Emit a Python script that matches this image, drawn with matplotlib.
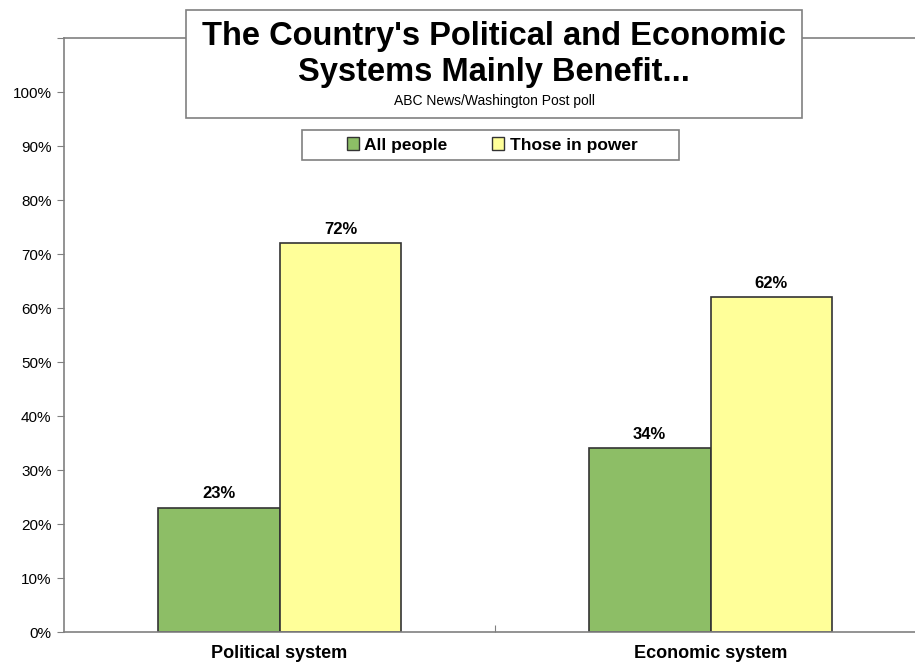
import matplotlib.pyplot as plt
import matplotlib.patches as mpatches
import numpy as np

categories = ["Political system", "Economic system"]
series_names = ["All people", "Those in power"]
all_people = [23, 34]
those_in_power = [72, 62]
colors = ["#8DBE66", "#FFFF99"]

plt.rcParams["font.family"] = ["Liberation Sans", "DejaVu Sans"]

fig = plt.figure(figsize=(9.15, 6.65), dpi=100)
ax = fig.add_axes([64 / 915, 33 / 665, 862 / 915, 594 / 665])

x = np.arange(len(categories))
w = 0.283
b1 = ax.bar(x - w / 2, all_people, w, color=colors[0], edgecolor="#333333", linewidth=1.2)
b2 = ax.bar(x + w / 2, those_in_power, w, color=colors[1], edgecolor="#333333", linewidth=1.2)

for bars, vals in [(b1, all_people), (b2, those_in_power)]:
    for rect, v in zip(bars, vals):
        ax.text(rect.get_x() + rect.get_width() / 2, v + 1.2, f"{v}%",
                ha="center", va="bottom", fontsize=12, fontweight="bold")

ax.set_xlim(-0.5, 1.5)
ax.set_ylim(0, 110)
ax.set_yticks(np.arange(0, 111, 10))
ax.set_yticklabels([f"{t}%" for t in range(0, 101, 10)] + [""], fontsize=11)
ax.set_xticks([0.5])
ax.set_xticklabels([""])
ax.tick_params(axis="x", direction="in", length=5, color="#808080")
ax.tick_params(axis="y", direction="out", length=5, color="#808080", pad=4)
for xi, name in zip(x, categories):
    ax.text(xi, -2.5, name, ha="center", va="top", fontsize=13, fontweight="bold")

for s in ["left", "bottom", "top"]:
    ax.spines[s].set_color("#808080")
    ax.spines[s].set_linewidth(1.2)
ax.spines["right"].set_visible(False)

# title box
tb = mpatches.Rectangle((186 / 915, 1 - 118 / 665), 616 / 915, 108 / 665,
                        transform=fig.transFigure, facecolor="white",
                        edgecolor="#808080", linewidth=1.2, zorder=5)
fig.patches.append(tb)
fig.text(494 / 915, 1 - 37 / 665, "The Country's Political and Economic",
         ha="center", va="center", fontsize=23.5, fontweight="bold", zorder=6)
fig.text(494 / 915, 1 - 72 / 665, "Systems Mainly Benefit...",
         ha="center", va="center", fontsize=23.5, fontweight="bold", zorder=6)
fig.text(494 / 915, 1 - 101 / 665, "ABC News/Washington Post poll",
         ha="center", va="center", fontsize=10, zorder=6)

# legend frame drawn by hand (wider than matplotlib's)
lb = mpatches.Rectangle((302 / 915, 1 - 160 / 665), 377 / 915, 30 / 665,
                        transform=fig.transFigure, facecolor="white",
                        edgecolor="#808080", linewidth=1.2, zorder=5)
fig.patches.append(lb)
handles = [mpatches.Patch(facecolor=c, edgecolor="#333333", label=n)
           for c, n in zip(colors, series_names)]
leg = fig.legend(handles=handles, loc="center", bbox_to_anchor=(492 / 915, 1 - 145 / 665),
                 ncol=2, frameon=False, fontsize=12.5,
                 handlelength=0.7, handleheight=0.7, handletextpad=0.3,
                 columnspacing=2.6, borderpad=0.4)
leg.set_zorder(7)
for t in leg.get_texts():
    t.set_fontweight("bold")

fig.savefig("out.png", dpi=100)
